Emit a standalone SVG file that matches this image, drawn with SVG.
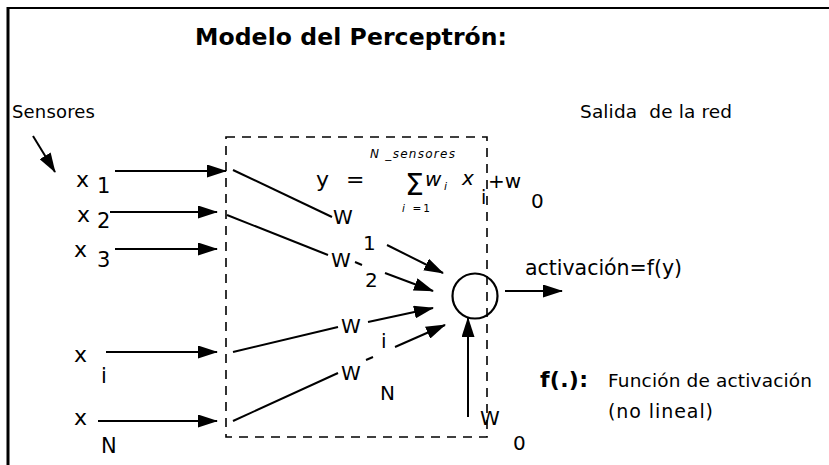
<svg xmlns="http://www.w3.org/2000/svg" width="829" height="465" viewBox="0 0 829 465">
<style>
text{font-family:"DejaVu Sans","Verdana",sans-serif;fill:#000}
.t{font-size:22px}
.s{font-size:21px}
.w{font-size:20px}
.it{font-style:italic}
.ln{stroke:#000;stroke-width:2;fill:none}
.dash{stroke:#000;stroke-width:1.6;fill:none;stroke-dasharray:9,7}
</style>
<defs>
<marker id="ah" markerUnits="userSpaceOnUse" markerWidth="20" markerHeight="13" refX="19" refY="6.5" orient="auto">
<path d="M0,0 L20,6.5 L0,13 z" fill="#000"/>
</marker>
</defs>
<rect width="829" height="465" fill="#fff"/>
<g id="frame">
<line x1="8" y1="8" x2="829" y2="8" stroke="#000" stroke-width="2"/>
<line x1="8" y1="7" x2="8" y2="465" stroke="#000" stroke-width="3"/>
</g>
<g id="title"><text x="195" y="45" font-size="23.5" font-weight="bold" textLength="312">Modelo del Perceptrón:</text></g>
<g id="box"><rect x="226" y="137" width="261" height="300" class="dash"/></g>
<g id="sensores"><text x="12" y="118" font-size="18" textLength="83">Sensores</text></g>
<g id="salida"><text x="580" y="118" font-size="18.5" textLength="152" xml:space="preserve">Salida  de la red</text></g>
<g id="x1"><text x="76" y="187" class="t">x</text><text x="97" y="193" class="s">1</text></g>
<g id="x2"><text x="77" y="222" class="t">x</text><text x="97" y="228" class="s">2</text></g>
<g id="x3"><text x="74" y="257" class="t">x</text><text x="97" y="267" class="s">3</text></g>
<g id="xi"><text x="74" y="362" class="t">x</text><text x="101" y="383" class="s">i</text></g>
<g id="xN"><text x="74" y="425" class="t">x</text><text x="101" y="453" class="s">N</text></g>
<g id="formula">
<text x="316" y="187" class="t">y</text>
<text x="346" y="187" class="t">=</text>
<text x="370" y="158" font-size="12" class="it" textLength="85">N _sensores</text>
<text x="405" y="195" font-size="30">Σ</text>
<text x="425" y="186" font-size="20" class="it">w</text>
<text x="444" y="190" font-size="11" class="it">i</text>
<text x="462" y="185" font-size="20" class="it">x</text>
<text x="481" y="204" font-size="19">i</text>
<text x="488" y="188" font-size="20">+w</text>
<text x="531" y="208" font-size="20">0</text>
<text x="402" y="212" font-size="10.5" textLength="28"><tspan class="it">i</tspan> =1</text>
</g>
<g id="weights">
<text x="333" y="224" class="w">W</text><text x="363" y="250" class="w">1</text>
<text x="331" y="267" class="w">W</text><text x="365" y="287" class="w">2</text>
<text x="341" y="333" class="w">W</text><text x="381" y="348" class="w">i</text>
<text x="341" y="380" class="w">W</text><text x="380" y="400" class="w">N</text>
</g>
<g id="neuron"><circle cx="475" cy="296" r="22.5" fill="none" stroke="#000" stroke-width="2.2"/></g>
<g id="activacion"><text x="525" y="275" font-size="20.5" textLength="157">activación=f(y)</text></g>
<g id="funcion">
<text x="540" y="387" font-size="22" font-weight="bold" textLength="48">f(.):</text>
<text x="608" y="387" font-size="18.5" textLength="204">Función de activación</text>
<text x="608" y="418" font-size="19" textLength="105">(no lineal)</text>
</g>
<g id="bias"><text x="480" y="425" class="w">W</text><text x="513" y="450" class="w">0</text></g>
<g id="connectors">
<line class="ln" x1="33" y1="136" x2="55" y2="172" marker-end="url(#ah)"/>
<line class="ln" x1="115" y1="171" x2="226" y2="171" marker-end="url(#ah)"/>
<line class="ln" x1="110" y1="212" x2="217" y2="212" marker-end="url(#ah)"/>
<line class="ln" x1="115" y1="249" x2="217" y2="249" marker-end="url(#ah)"/>
<line class="ln" x1="106" y1="352" x2="217" y2="352" marker-end="url(#ah)"/>
<line class="ln" x1="98" y1="421" x2="217" y2="421" marker-end="url(#ah)"/>
<line class="ln" x1="233" y1="170" x2="332" y2="217"/>
<line class="ln" x1="387" y1="245" x2="443" y2="273" marker-end="url(#ah)"/>
<line class="ln" x1="227" y1="215" x2="328" y2="255"/>
<line class="ln" x1="355" y1="262" x2="362" y2="265"/>
<line class="ln" x1="385" y1="273" x2="433" y2="291" marker-end="url(#ah)"/>
<line class="ln" x1="233" y1="352" x2="338" y2="327"/>
<line class="ln" x1="368" y1="322" x2="433" y2="308" marker-end="url(#ah)"/>
<line class="ln" x1="233" y1="421" x2="338" y2="373"/>
<line class="ln" x1="366" y1="360" x2="373" y2="357"/>
<line class="ln" x1="395" y1="347" x2="445" y2="325" marker-end="url(#ah)"/>
<line class="ln" x1="505" y1="291" x2="562" y2="291" marker-end="url(#ah)"/>
<line class="ln" x1="468" y1="417" x2="468" y2="318" marker-end="url(#ah)"/>
</g>
</svg>
